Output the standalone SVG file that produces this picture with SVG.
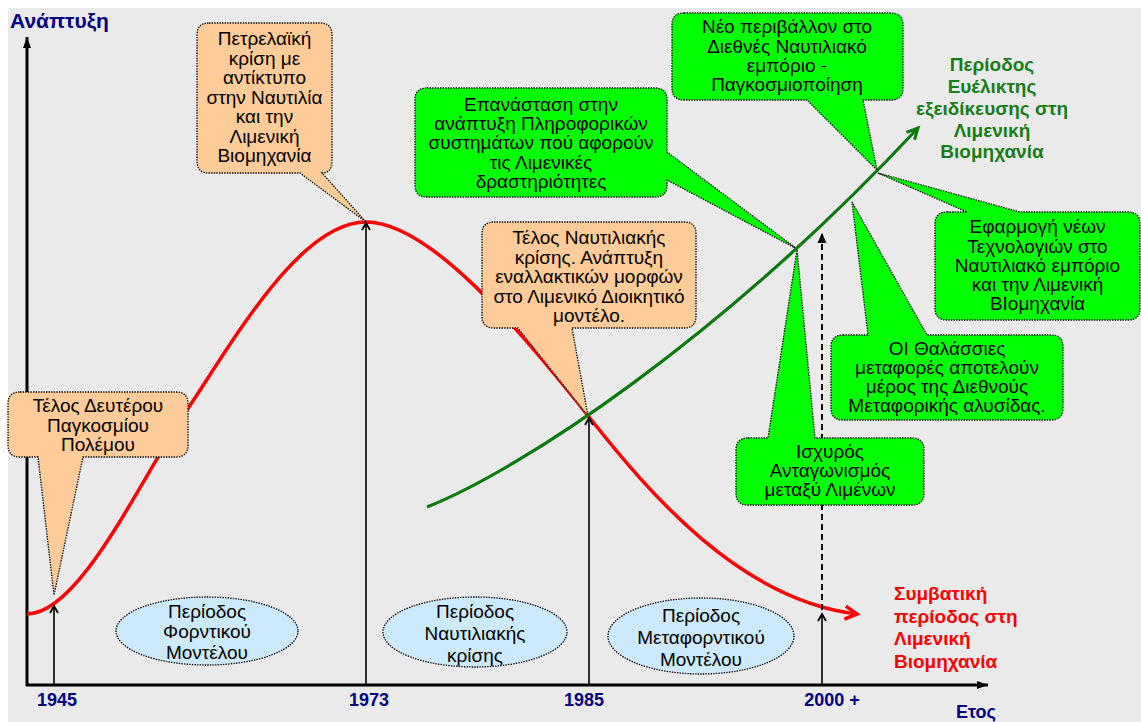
<svg xmlns="http://www.w3.org/2000/svg" width="1141" height="722" viewBox="0 0 1141 722">
<defs>
<style>
.bg{fill:#eaeaea}
.axis{stroke:#000;stroke-width:3;fill:none}
.tick{stroke:#000;stroke-width:1.6;fill:none}
.dash{stroke:#000;stroke-width:2;fill:none;stroke-dasharray:6 4}
.red{stroke:#ff0000;stroke-width:3.5;fill:none}
.grn{stroke:#0a7a0a;stroke-width:3.2;fill:none}
.co{fill:#ffcc99;stroke:#000;stroke-width:1.3;stroke-dasharray:1.4 1.2}
.cg{fill:#00ff00;stroke:#000;stroke-width:1.3;stroke-dasharray:1.4 1.2}
.el{fill:#cdeafc;stroke:#000;stroke-width:1.3;stroke-dasharray:1.4 1.2}
.t{font-family:"Liberation Sans",Arial,sans-serif;font-size:19px;fill:#000;text-anchor:middle}
.yr{font-family:"Liberation Sans",Arial,sans-serif;font-size:18px;font-weight:bold;fill:#000080}
.ttl{font-family:"Liberation Sans",Arial,sans-serif;font-size:21px;font-weight:bold;fill:#000080}
.gl{font-family:"Liberation Sans",Arial,sans-serif;font-size:19px;font-weight:bold;fill:#177d17;text-anchor:middle}
.rl{font-family:"Liberation Sans",Arial,sans-serif;font-size:19px;font-weight:bold;fill:#ff0000}
</style>
<marker id="axArr" markerUnits="userSpaceOnUse" markerWidth="14" markerHeight="12" refX="11" refY="5" orient="auto">
<path d="M0,1 L11,5 L0,9 Z" fill="#000"/>
</marker>
<marker id="tkArr" markerUnits="userSpaceOnUse" markerWidth="12" markerHeight="12" refX="8" refY="5" orient="auto">
<path d="M1,1 L8,5 L1,9" fill="none" stroke="#000" stroke-width="1.8"/>
</marker>
<marker id="dsArr" markerUnits="userSpaceOnUse" markerWidth="14" markerHeight="12" refX="10" refY="5" orient="auto">
<path d="M0,0.5 L10,5 L0,9.5 Z" fill="#000"/>
</marker>
<marker id="rdArr" markerUnits="userSpaceOnUse" markerWidth="18" markerHeight="18" refX="14" refY="8" orient="auto">
<path d="M2,1.5 L14,8 L2,14.5" fill="none" stroke="#ff0000" stroke-width="3.5"/>
</marker>
<marker id="gnArr" markerUnits="userSpaceOnUse" markerWidth="16" markerHeight="16" refX="12" refY="7" orient="auto">
<path d="M1,1.5 L12,7 L1,12.5" fill="none" stroke="#0a7a0a" stroke-width="3"/>
</marker>
</defs>
<rect class="bg" x="8" y="8" width="1133" height="714"/>

<g id="axes">
<line class="axis" x1="27" y1="686" x2="27" y2="37" marker-end="url(#axArr)"/>
<line class="axis" x1="26" y1="685" x2="988" y2="685" marker-end="url(#axArr)"/>
<text class="ttl" x="10" y="28">Ανάπτυξη</text>
<text class="yr" x="956" y="718">Ετος</text>
</g>

<g id="connectors">
<path class="red" d="M27,614 C80,614 140,480 187,410 C234,340 300,222 366,222 C430,222 520,330 589,417 C650,494 740,600 857,614" marker-end="url(#rdArr)"/>
<line class="tick" x1="54" y1="684" x2="54" y2="606" marker-end="url(#tkArr)"/>
<line class="tick" x1="366" y1="684" x2="366" y2="223" marker-end="url(#tkArr)"/>
<line class="tick" x1="589" y1="684" x2="589" y2="418" marker-end="url(#tkArr)"/>
<line class="tick" x1="822" y1="684" x2="822" y2="614" marker-end="url(#tkArr)"/>
<line class="dash" x1="822" y1="610" x2="822" y2="233" marker-end="url(#dsArr)"/>
</g>

<g id="callout-ww2">
<path class="co" d="M20,392 H176 Q188,392 188,404 V445 Q188,457 176,457 H83 L54,595 L38,457 H20 Q8,457 8,445 V404 Q8,392 20,392 Z"/>
<text class="t" x="98" y="412">Τέλος Δευτέρου</text>
<text class="t" x="98" y="431.5">Παγκοσμίου</text>
<text class="t" x="98" y="451">Πολέμου</text>
</g>

<g id="callout-oil">
<path class="co" d="M209,23 H320 Q332,23 332,35 V161 Q332,173 322,173 L366,222 L300,173 H209 Q197,173 197,161 V35 Q197,23 209,23 Z"/>
<text class="t" x="264.5" y="45">Πετρελαϊκή</text>
<text class="t" x="264.5" y="64.5">κρίση με</text>
<text class="t" x="264.5" y="84">αντίκτυπο</text>
<text class="t" x="264.5" y="103.5">στην Ναυτιλία</text>
<text class="t" x="264.5" y="123">και την</text>
<text class="t" x="264.5" y="142.5">Λιμενική</text>
<text class="t" x="264.5" y="162">Βιομηχανία</text>
</g>

<g id="callout-endcrisis">
<path class="co" d="M494,222 H684 Q696,222 696,234 V316 Q696,328 684,328 H572 L588,416 L518,328 H494 Q482,328 482,316 V234 Q482,222 494,222 Z"/>
<text class="t" x="589" y="244">Τέλος Ναυτιλιακής</text>
<text class="t" x="589" y="263.5">κρίσης. Ανάπτυξη</text>
<text class="t" x="589" y="283">εναλλακτικών μορφών</text>
<text class="t" x="589" y="302.5">στο Λιμενικό Διοικητικό</text>
<text class="t" x="589" y="322">μοντέλο.</text>
</g>

<g id="callout-it">
<path class="cg" d="M427,88 H655 Q667,88 667,100 V152 L797,249 L667,180 V185 Q667,197 655,197 H427 Q415,197 415,185 V100 Q415,88 427,88 Z"/>
<text class="t" x="541" y="111">Επανάσταση στην</text>
<text class="t" x="541" y="130">ανάπτυξη Πληροφορικών</text>
<text class="t" x="541" y="149">συστημάτων πού αφορούν</text>
<text class="t" x="541" y="168.5">τις Λιμενικές</text>
<text class="t" x="541" y="187.5">δραστηριότητες</text>
</g>

<g id="callout-global">
<path class="cg" d="M684,13 H891 Q903,13 903,25 V88 Q903,100 891,100 H863 L877,170 L807,100 H684 Q672,100 672,88 V25 Q672,13 684,13 Z"/>
<text class="t" x="787" y="33">Νέο περιβάλλον στο</text>
<text class="t" x="787" y="52.5">Διεθνές Ναυτιλιακό</text>
<text class="t" x="787" y="72">εμπόριο -</text>
<text class="t" x="787" y="91">Παγκοσμιοποίηση</text>
</g>

<g id="callout-tech">
<path class="cg" d="M947,212 H967 L878,173 L1020,212 H1128 Q1140,212 1140,224 V308 Q1140,320 1128,320 H947 Q935,320 935,308 V224 Q935,212 947,212 Z"/>
<text class="t" x="1037.5" y="233">Εφαρμογή νέων</text>
<text class="t" x="1037.5" y="252.5">Τεχνολογιών στο</text>
<text class="t" x="1037.5" y="272">Ναυτιλιακό εμπόριο</text>
<text class="t" x="1037.5" y="291">και την Λιμενική</text>
<text class="t" x="1037.5" y="310">ΒΙομηχανία</text>
</g>

<g id="callout-chain">
<path class="cg" d="M843,335 H868 L852,202 L927,335 H1051 Q1063,335 1063,347 V408 Q1063,420 1051,420 H843 Q831,420 831,408 V347 Q831,335 843,335 Z"/>
<text class="t" x="947" y="355">ΟΙ Θαλάσσιες</text>
<text class="t" x="947" y="374">μεταφορές αποτελούν</text>
<text class="t" x="947" y="393">μέρος της Διεθνούς</text>
<text class="t" x="947" y="412">Μεταφορικής αλυσίδας.</text>
</g>

<g id="callout-competition">
<path class="cg" d="M748,438 H768 L797,250 L815,438 H912 Q924,438 924,450 V493 Q924,505 912,505 H748 Q736,505 736,493 V450 Q736,438 748,438 Z"/>
<text class="t" x="830" y="458">Ισχυρός</text>
<text class="t" x="830" y="477">Ανταγωνισμός</text>
<text class="t" x="830" y="496">μεταξύ Λιμένων</text>
</g>

<g id="green-curve">
<path class="grn" d="M427,507 C520,470 720,340 918,128" marker-end="url(#gnArr)"/>
</g>

<g id="period-fordist">
<ellipse class="el" cx="207" cy="631" rx="91" ry="34"/>
<text class="t" x="207" y="618">Περίοδος</text>
<text class="t" x="207" y="638">Φορντικού</text>
<text class="t" x="207" y="658.5">Μοντέλου</text>
</g>

<g id="period-crisis">
<ellipse class="el" cx="475" cy="632" rx="92" ry="35"/>
<text class="t" x="475" y="618">Περίοδος</text>
<text class="t" x="475" y="640">Ναυτιλιακής</text>
<text class="t" x="475" y="662">κρίσης</text>
</g>

<g id="period-postfordist">
<ellipse class="el" cx="701" cy="636" rx="93" ry="38"/>
<text class="t" x="701" y="622">Περίοδος</text>
<text class="t" x="701" y="644">Μεταφορντικού</text>
<text class="t" x="701" y="666">Μοντέλου</text>
</g>

<g id="years">
<text class="yr" x="57" y="706" text-anchor="middle">1945</text>
<text class="yr" x="369" y="706" text-anchor="middle">1973</text>
<text class="yr" x="584" y="706" text-anchor="middle">1985</text>
<text class="yr" x="832" y="706" text-anchor="middle">2000 +</text>
</g>

<g id="label-flexible">
<text class="gl" x="992" y="71">Περίοδος</text>
<text class="gl" x="992" y="93">Ευέλικτης</text>
<text class="gl" x="992" y="115">εξειδίκευσης στη</text>
<text class="gl" x="992" y="136.5">Λιμενική</text>
<text class="gl" x="992" y="158">Βιομηχανία</text>
</g>

<g id="label-conventional">
<text class="rl" x="894" y="600">Συμβατική</text>
<text class="rl" x="894" y="622.5">περίοδος στη</text>
<text class="rl" x="894" y="645">Λιμενική</text>
<text class="rl" x="894" y="667.5">Βιομηχανία</text>
</g>
</svg>
